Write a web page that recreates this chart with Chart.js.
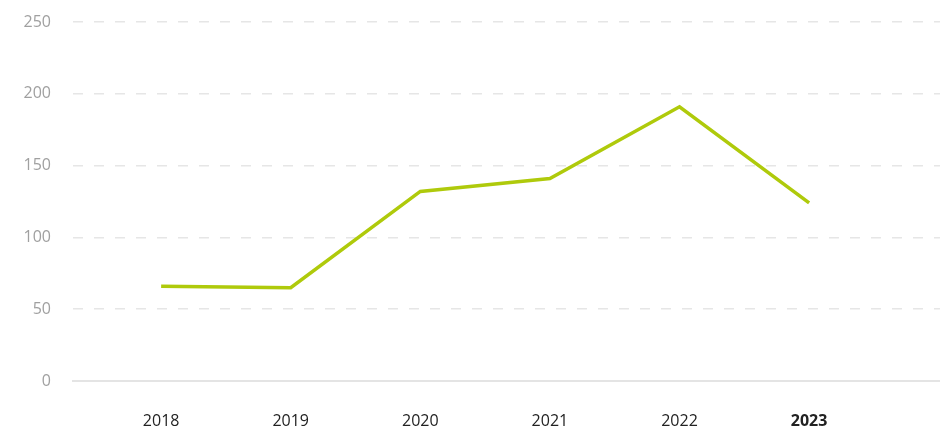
<!DOCTYPE html>
<html>
<head>
<meta charset="utf-8">
<script src="https://cdn.jsdelivr.net/npm/chart.js@4.4.0/dist/chart.umd.min.js"></script>
<style>
  html, body { margin: 0; padding: 0; background: #fff; }
  #wrap { width: 940px; height: 429px; position: relative; }
</style>
</head>
<body>
<div id="wrap"><canvas id="lineChart"></canvas></div>
<script>
// values
const years = ['2018', '2019', '2020', '2021', '2022', '2023'];
const values = [66, 65, 132, 141, 191, 124];
const yTicks = [0, 50, 100, 150, 200, 250];

const ctx = document.getElementById('lineChart').getContext('2d');
window.lineChart = new Chart(ctx, {
  type: 'line',
  data: {
    datasets: [{
      data: values.map((v, i) => ({ x: i, y: v })),
      borderColor: '#afca0b',
      borderWidth: 3.5,
      pointRadius: 0,
      fill: false,
      tension: 0
    }]
  },
  options: {
    responsive: true,
    maintainAspectRatio: false,
    animation: false,
    layout: { padding: { top: 22, right: 0, left: 0, bottom: 0 } },
    plugins: { legend: { display: false }, tooltip: { enabled: false } },
    scales: {
      x: {
        type: 'linear',
        min: -0.68,
        max: 6.01,
        afterBuildTicks: scale => { scale.ticks = years.map((_, i) => ({ value: i })); },
        afterFit: scale => { scale.height = 48; },
        grid: { display: false, drawTicks: false },
        border: { display: true, color: '#e4e4e4', width: 2 },
        ticks: {
          padding: 31,
          autoSkip: false,
          maxRotation: 0,
          color: '#222',
          font: ctx => ({
            family: 'Open Sans',
            size: 16,
            weight: ctx.index === years.length - 1 ? 'bold' : 'normal'
          }),
          callback: v => years[v]
        }
      },
      y: {
        min: 0,
        max: 250,
        afterBuildTicks: scale => { scale.ticks = yTicks.map(v => ({ value: v })); },
        afterFit: scale => {
          scale.width = 73;
          scale.paddingTop = 0;
          scale.paddingBottom = 0;
        },
        grid: {
          drawTicks: false,
          color: c => c.tick && c.tick.value === 0 ? 'rgba(0,0,0,0)' : '#e6e6e6',
          lineWidth: 1.5
        },
        border: { display: false, dash: [10, 11] },
        ticks: {
          padding: 22,
          color: '#a0a0a0',
          font: { family: 'Open Sans', size: 16 }
        }
      }
    }
  }
});
</script>
</body>
</html>
